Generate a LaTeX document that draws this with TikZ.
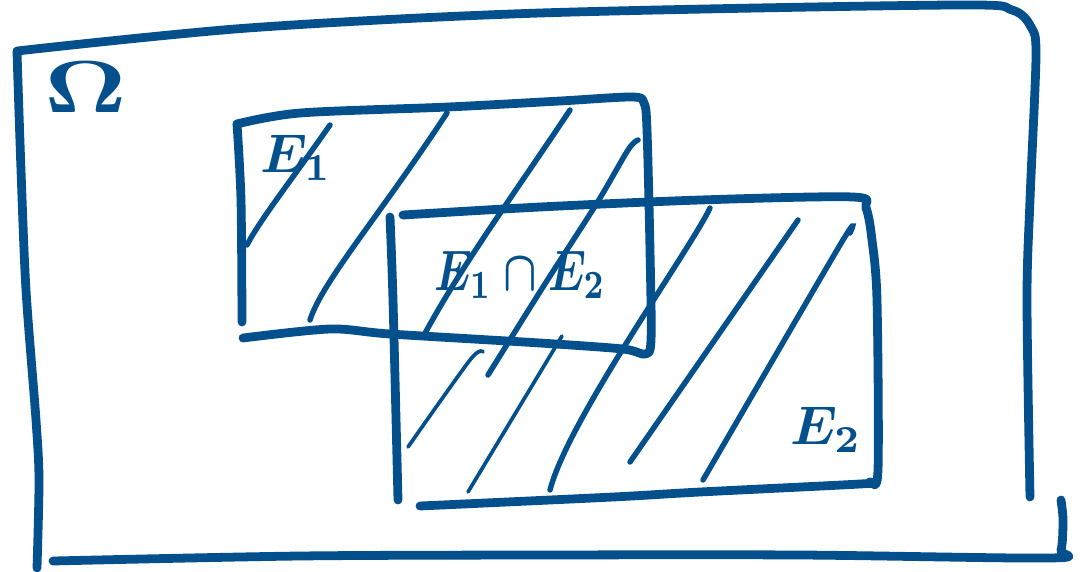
\documentclass[tikz,border=0pt]{standalone}
\definecolor{ink}{RGB}{3,80,140}

\begin{document}
\begin{tikzpicture}[
  x=0.02cm, y=-0.02cm,
  frame/.style={ink,line width=5pt,line cap=round,line join=round},
  hatch/.style={ink,line width=3.1pt,line cap=round},
  thinhatch/.style={ink,line width=2.1pt,line cap=round},
  sketch/.style={ink,inner sep=0pt,font=\boldmath}
]
  \useasboundingbox (0,0) rectangle (1080,572);

  % outer set
  \draw[frame] plot[smooth,tension=0.5] coordinates {(17,52) (21,170) (26,290) (36,420) (39,480) (37,568)};
  \draw[frame] plot[smooth,tension=0.5] coordinates {(17,51) (248,28) (540,13) (953,5) (1012,10) (1031,27) (1036,56) (1030,200) (1027,300) (1030,497)};
  \draw[frame] plot[smooth,tension=0.5] coordinates {(53,561) (300,556) (540,555) (800,555) (1050,558) (1061,550) (1063,520) (1061,500)};

  % E1
  \draw[frame] plot[smooth,tension=0.5] coordinates {(237,124) (241,200) (242,322)};
  \draw[frame] plot[smooth,tension=0.5] coordinates {(237,124) (300,113) (448,107) (560,101) (632,97) (644,103) (647,130) (650,250) (651,340) (645,354) (623,349) (540,343) (390,334) (330,329) (243,338)};

  % E2
  \draw[frame] plot[smooth,tension=0.5] coordinates {(390,217) (393,300) (398,500)};
  \draw[frame] plot[smooth,tension=0.5] coordinates {(403,215) (540,207) (700,200) (853,197) (866,208) (872,240) (877,300) (878,470) (870,482) (860,484) (700,492) (613,497) (420,506)};

  % hatching
  \draw[hatch] (330,125) .. controls (290,182) and (260,220) .. (247,245);
  \draw[hatch] (447,113) .. controls (380,215) and (322,282) .. (310,320);
  \draw[hatch] (570,110) .. controls (510,200) and (460,268) .. (423,337);
  \draw[hatch] plot[smooth] coordinates {(638,140) (628,150) (597,203) (543,287) (488,375)};
  \draw[hatch] (710,208) .. controls (690,250) and (568,420) .. (550,490);
  \draw[thinhatch] plot[smooth] coordinates {(483,352) (470,360) (408,447)};
  \draw[thinhatch] (562,336) -- (468,492);
  \draw[hatch] (798,220) -- (630,462);
  \draw[hatch] plot[smooth] coordinates {(850,233) (840,245) (703,480)};

  % labels
  \node[sketch,scale=4.2,xscale=1.35] (omega) at (86,87) {$\Omega$};
  \node[sketch,scale=3.1] (eone) at (296,158) {$E_1$};
  \node[sketch,scale=2.5,yscale=1.3] (both) at (520,275) {$E_1\cap E_2$};
  \node[sketch,scale=3.1] (etwo) at (826,430) {$E_2$};
\end{tikzpicture}
\end{document}
